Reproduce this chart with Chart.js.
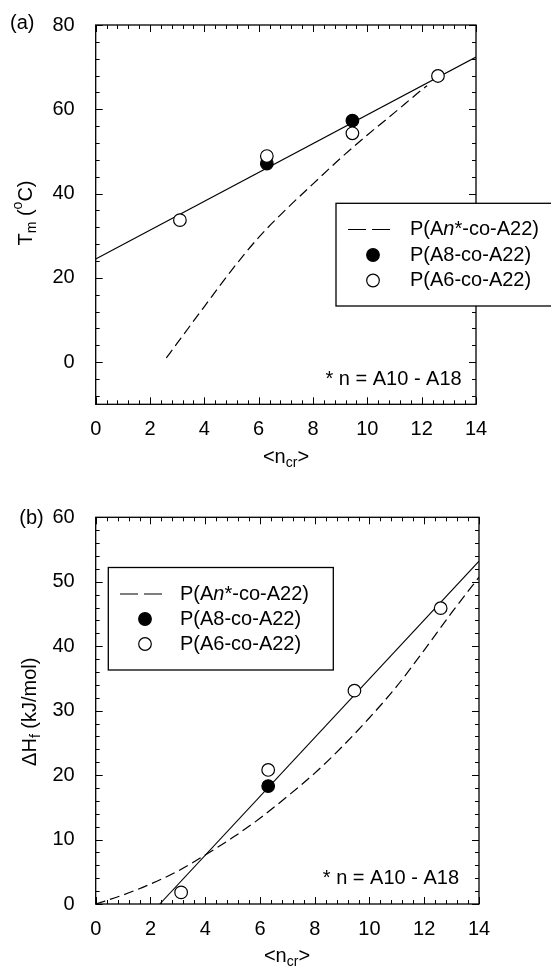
<!DOCTYPE html>
<html>
<head>
<meta charset="utf-8">
<script src="https://cdn.jsdelivr.net/npm/chart.js@4.4.1/dist/chart.umd.min.js"></script>
<style>
html, body { margin: 0; padding: 0; background: #fff; }
.panel { position: absolute; left: 0; }
</style>
</head>
<body>
<div class="panel" style="top:0px;"><canvas id="chartA" width="551" height="480"></canvas></div>
<div class="panel" style="top:480px;"><canvas id="chartB" width="551" height="487"></canvas></div>
<script>
// shared x axis: <n_cr>
const xTicks = [0, 2, 4, 6, 8, 10, 12, 14];

// (a) Tm vs <n_cr>
const tmTicks = [0, 20, 40, 60, 80];
const tmFitX = [0, 14];
const tmFitY = [24.5, 72.4];
const tmAnX = [2.6, 3, 4, 5, 6, 7, 8, 9, 10, 11, 12, 12.2];
const tmAnY = [1.0, 4.5, 13.2, 21.8, 29.6, 36.2, 42.3, 48.3, 53.9, 59.2, 64.6, 65.6];
const tmA8X = [6.3, 9.45];
const tmA8Y = [47.1, 57.3];
const tmA6X = [3.1, 6.3, 9.45, 12.6];
const tmA6Y = [33.7, 48.9, 54.3, 67.9];

// (b) dHf vs <n_cr>
const hfTicks = [0, 10, 20, 30, 40, 50, 60];
const hfFitX = [2.34, 14];
const hfFitY = [0, 53.2];
const hfAnX = [0, 1, 2, 3, 4, 5, 6, 7, 8, 9, 10, 11, 12, 13, 14];
const hfAnY = [0, 1.4, 3.1, 5.1, 7.6, 10.3, 13.3, 16.7, 20.3, 24.4, 28.9, 33.8, 39.4, 45.2, 50.7];
const hfA8X = [6.3];
const hfA8Y = [18.3];
const hfA6X = [3.12, 6.3, 9.45, 12.6];
const hfA6Y = [1.8, 20.8, 33.1, 45.9];

const seriesNames = ['P(An*-co-A22)', 'P(A8-co-A22)', 'P(A6-co-A22)'];
const noteText = '* n = A10 - A18';

const FAM = '"Liberation Sans", Arial, Helvetica, sans-serif';
Chart.defaults.font.family = FAM;
Chart.defaults.color = '#000';

const pts = (xs, ys) => xs.map((x, i) => ({ x: x, y: ys[i] }));

// draws text made of pieces (subscripts, superscripts, italics)
function richText(ctx, parts, x, y, size, align) {
  const fontOf = p => (p.it ? 'italic ' : '') + ((p.sub || p.sup) ? Math.round(size * 0.7) : size) + 'px ' + FAM;
  let w = 0;
  parts.forEach(p => { ctx.font = fontOf(p); w += ctx.measureText(p.t).width; });
  let cx = align === 'center' ? x - w / 2 : align === 'right' ? x - w : x;
  ctx.textAlign = 'left';
  ctx.textBaseline = 'middle';
  parts.forEach(p => {
    ctx.font = fontOf(p);
    const dy = p.sub ? size * 0.3 : p.sup ? -size * 0.38 : 0;
    ctx.fillText(p.t, cx, y + dy);
    cx += ctx.measureText(p.t).width;
  });
}

const legendParts = [
  [{ t: 'P(A' }, { t: 'n', it: true }, { t: '*-co-A22)' }],
  [{ t: seriesNames[1] }],
  [{ t: seriesNames[2] }]
];

const frame = {
  id: 'frame',
  afterDatasetsDraw(chart, args, o) {
    const ctx = chart.ctx, a = chart.chartArea;
    const xs = chart.scales.x, ys = chart.scales.y;
    ctx.save();
    ctx.strokeStyle = '#000';
    ctx.fillStyle = '#000';

    // inward tick marks on all four sides
    ctx.lineWidth = 1;
    ctx.beginPath();
    const marks = (scale, majors, step, fn) => {
      const start = Math.ceil(scale.min / step - 1e-9);
      const end = Math.floor(scale.max / step + 1e-9);
      for (let k = start; k <= end; k++) {
        const v = k * step;
        const major = majors.some(m => Math.abs(m - v) < 1e-6);
        fn(Math.round(scale.getPixelForValue(v)) + 0.5, major ? 7 : 4);
      }
    };
    marks(xs, o.xMajor, o.xMinor, (px, len) => {
      ctx.moveTo(px, a.bottom); ctx.lineTo(px, a.bottom - len);
      ctx.moveTo(px, a.top); ctx.lineTo(px, a.top + len);
    });
    marks(ys, o.yMajor, o.yMinor, (py, len) => {
      ctx.moveTo(a.left, py); ctx.lineTo(a.left + len, py);
      ctx.moveTo(a.right, py); ctx.lineTo(a.right - len, py);
    });
    ctx.stroke();

    // plot frame
    ctx.lineWidth = 1.3;
    ctx.strokeRect(a.left, a.top, a.right - a.left, a.bottom - a.top);

    // legend box
    const L = o.legend;
    ctx.fillStyle = '#fff';
    ctx.fillRect(L.x, L.y, L.w, L.h);
    ctx.lineWidth = 1.3;
    ctx.strokeRect(L.x, L.y, L.w, L.h);
    ctx.fillStyle = '#000';
    L.rows.forEach((ry, i) => {
      if (i === 0) {
        ctx.lineWidth = 1.2;
        ctx.setLineDash([18, 6]);
        ctx.beginPath();
        ctx.moveTo(L.s0, ry); ctx.lineTo(L.s1, ry);
        ctx.stroke();
        ctx.setLineDash([]);
      } else {
        ctx.beginPath();
        ctx.arc(L.mx, ry, 6.3, 0, Math.PI * 2);
        ctx.fillStyle = i === 1 ? '#000' : '#fff';
        ctx.fill();
        ctx.lineWidth = 1.2;
        ctx.stroke();
        ctx.fillStyle = '#000';
      }
      richText(ctx, legendParts[i], L.tx, ry, 20, 'left');
    });

    // note
    richText(ctx, [{ t: noteText }], o.note.x, o.note.y, 20, 'right');

    // axis titles
    richText(ctx, o.xTitle, o.xTitlePos.x, o.xTitlePos.y, 20, 'center');
    ctx.save();
    ctx.translate(o.yTitlePos.x, o.yTitlePos.y);
    ctx.rotate(-Math.PI / 2);
    richText(ctx, o.yTitle, 0, 0, 20, 'center');
    ctx.restore();

    // panel tag
    richText(ctx, [{ t: o.tag.t }], o.tag.x, o.tag.y, 20, 'left');
    ctx.restore();
  }
};

function makeChart(id, P) {
  const datasets = [
    { label: 'fit', data: pts(P.fitX, P.fitY), showLine: true, borderColor: '#000', borderWidth: 1.1,
      pointRadius: 0, order: 4 },
    { label: seriesNames[0], data: pts(P.anX, P.anY), showLine: true, borderColor: '#000', borderWidth: 1.2,
      borderDash: [10, 5], pointRadius: 0, tension: 0.4, cubicInterpolationMode: 'monotone', order: 3 },
    { label: seriesNames[1], data: pts(P.a8X, P.a8Y), showLine: false, pointRadius: 6.3,
      pointBackgroundColor: '#000', pointBorderColor: '#000', pointBorderWidth: 1.2, order: 2 },
    { label: seriesNames[2], data: pts(P.a6X, P.a6Y), showLine: false, pointRadius: 6.3,
      pointBackgroundColor: '#fff', pointBorderColor: '#000', pointBorderWidth: 1.2, order: 1 }
  ];
  return new Chart(document.getElementById(id), {
    type: 'scatter',
    data: { datasets: datasets },
    options: {
      responsive: false,
      animation: false,
      devicePixelRatio: 1,
      layout: { padding: { left: 0, top: P.area.top, right: P.w - P.area.right, bottom: 0 } },
      plugins: {
        legend: { display: false },
        tooltip: { enabled: false },
        frame: P.frame
      },
      scales: {
        x: {
          type: 'linear', min: 0, max: 14,
          grid: { display: false }, border: { display: false },
          afterBuildTicks: s => { s.ticks = xTicks.map(v => ({ value: v })); },
          afterFit: s => { s.height = P.h - P.area.bottom; },
          ticks: { padding: 5, font: { size: 20 }, color: '#000', maxRotation: 0, autoSkip: false }
        },
        y: {
          type: 'linear', min: P.ymin, max: P.ymax,
          grid: { display: false }, border: { display: false },
          afterBuildTicks: s => { s.ticks = P.yTicks.map(v => ({ value: v })); },
          afterFit: s => { s.width = P.area.left; },
          ticks: { padding: 13, font: { size: 20 }, color: '#000', autoSkip: false }
        }
      }
    },
    plugins: [frame]
  });
}

makeChart('chartA', {
  w: 551, h: 480,
  area: { left: 95.7, right: 476, top: 21.7, bottom: 404.3 },
  ymin: -10, ymax: 80, yTicks: tmTicks,
  fitX: tmFitX, fitY: tmFitY, anX: tmAnX, anY: tmAnY,
  a8X: tmA8X, a8Y: tmA8Y, a6X: tmA6X, a6Y: tmA6Y,
  frame: {
    xMajor: xTicks, xMinor: 0.4, yMajor: tmTicks, yMinor: 4,
    legend: { x: 336, y: 203.3, w: 230, h: 102.7, rows: [229.5, 255, 280.5], s0: 348, s1: 391, mx: 373, tx: 410 },
    note: { x: 461.7, y: 379 },
    xTitle: [{ t: '<n' }, { t: 'cr', sub: true }, { t: '>' }],
    xTitlePos: { x: 286, y: 457 },
    yTitle: [{ t: 'T' }, { t: 'm', sub: true }, { t: ' (' }, { t: 'o', sup: true }, { t: 'C)' }],
    yTitlePos: { x: 26, y: 213 },
    tag: { t: '(a)', x: 10, y: 23 }
  }
});

makeChart('chartB', {
  w: 551, h: 487,
  area: { left: 95.7, right: 479, top: 37.3, bottom: 424 },
  ymin: 0, ymax: 60, yTicks: hfTicks,
  fitX: hfFitX, fitY: hfFitY, anX: hfAnX, anY: hfAnY,
  a8X: hfA8X, a8Y: hfA8Y, a6X: hfA6X, a6Y: hfA6Y,
  frame: {
    xMajor: xTicks, xMinor: 0.4, yMajor: hfTicks, yMinor: 2,
    legend: { x: 108.3, y: 87.5, w: 225, h: 102.5, rows: [114, 139, 164], s0: 120, s1: 162, mx: 145, tx: 180 },
    note: { x: 459, y: 398.3 },
    xTitle: [{ t: '<n' }, { t: 'cr', sub: true }, { t: '>' }],
    xTitlePos: { x: 287, y: 476 },
    yTitle: [{ t: '\u0394H' }, { t: 'f', sub: true }, { t: ' (kJ/mol)' }],
    yTitlePos: { x: 30, y: 231.7 },
    tag: { t: '(b)', x: 19.3, y: 38 }
  }
});
</script>
</body>
</html>
